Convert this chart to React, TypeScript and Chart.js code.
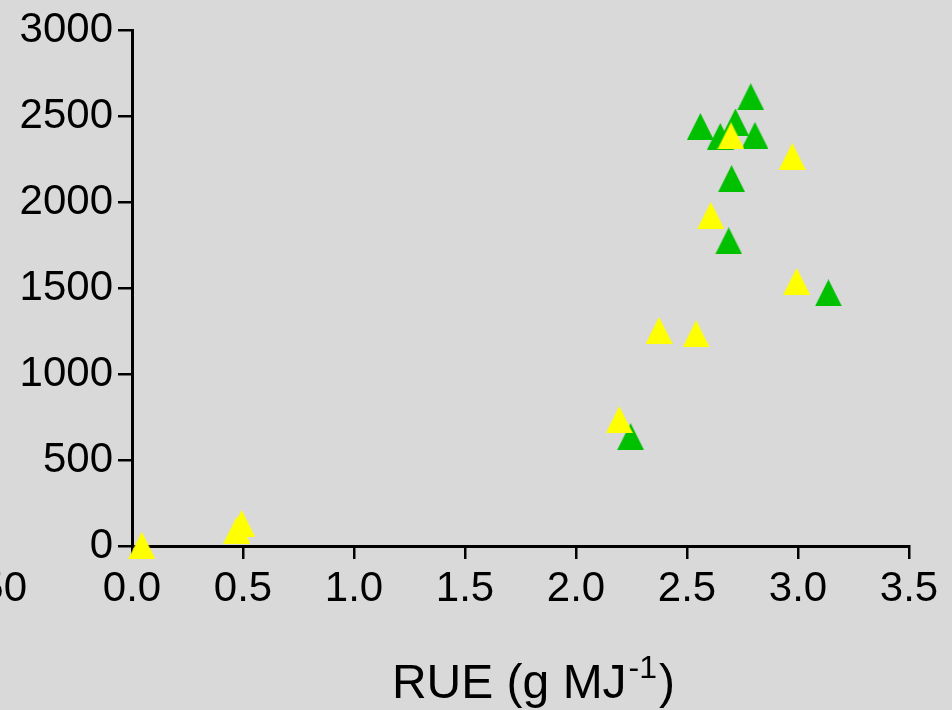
import React, { useEffect, useRef } from "react";
import { Chart, registerables } from "chart.js";

Chart.register(...registerables);

const X_TICKS = [0, 0.5, 1.0, 1.5, 2.0, 2.5, 3.0, 3.5];
const Y_TICKS = [0, 500, 1000, 1500, 2000, 2500, 3000];

const GREEN_X = [2.787, 2.56, 2.718, 2.65, 2.806, 2.701, 2.688, 3.137, 2.246];
const GREEN_Y = [2613, 2440, 2466, 2382, 2388, 2137, 1775, 1472, 636];

const YELLOW_X = [2.698, 2.974, 2.607, 2.994, 2.374, 2.541, 2.195, 0.044, 0.494, 0.472];
const YELLOW_Y = [2386, 2266, 1923, 1539, 1254, 1234, 735, 4, 131, 93];

const TITLE_MAIN = "RUE (g MJ";
const TITLE_SUP = "-1";
const TITLE_END = ")";
const EDGE_FRAGMENT = "50";

const FONT = '"Liberation Sans", Arial, Helvetica, sans-serif';
const BG = "#d9d9d9";

function makeTriangle(color: string, size: number): HTMLCanvasElement {
  const c = document.createElement("canvas");
  c.width = size;
  c.height = size;
  const ctx = c.getContext("2d")!;
  ctx.fillStyle = color;
  ctx.beginPath();
  ctx.moveTo(0, size);
  ctx.lineTo(size / 2, 0);
  ctx.lineTo(size, size);
  ctx.closePath();
  ctx.fill();
  return c;
}

const textPlugin = {
  id: "extraText",
  afterDraw(chart: any) {
    const ctx = chart.ctx;
    const area = chart.chartArea;
    ctx.save();
    ctx.fillStyle = "#000";
    const bigFont = `48px ${FONT}`;
    const smallFont = `32px ${FONT}`;
    ctx.font = bigFont;
    const w1 = ctx.measureText(TITLE_MAIN).width;
    const w3 = ctx.measureText(TITLE_END).width;
    ctx.font = smallFont;
    const w2 = ctx.measureText(TITLE_SUP).width;
    const total = w1 + w2 + w3 + 4;
    let x = (area.left + area.right) / 2 + 13 - total / 2;
    const base = 698;
    ctx.textAlign = "left";
    ctx.textBaseline = "alphabetic";
    ctx.font = bigFont;
    ctx.fillText(TITLE_MAIN, x, base);
    x += w1 + 2;
    ctx.font = smallFont;
    ctx.fillText(TITLE_SUP, x, base - 20);
    x += w2 + 2;
    ctx.font = bigFont;
    ctx.fillText(TITLE_END, x, base);
    ctx.font = `42px ${FONT}`;
    ctx.textAlign = "right";
    ctx.textBaseline = "middle";
    ctx.fillText(EDGE_FRAGMENT, 27, 589);
    ctx.restore();
  },
};

export default function App() {
  const ref = useRef<HTMLCanvasElement | null>(null);

  useEffect(() => {
    if (!ref.current) return;
    const yellowImg = makeTriangle("#ffff00", 27);
    const greenImg = makeTriangle("#00c000", 27);
    const chart = new Chart(ref.current, {
      type: "scatter",
      data: {
        datasets: [
          {
            label: "yellow",
            data: YELLOW_X.map((x, i) => ({ x, y: YELLOW_Y[i] })),
            pointStyle: yellowImg as any,
            pointRadius: 14,
            backgroundColor: "#ffff00",
            clip: false as any,
          },
          {
            label: "green",
            data: GREEN_X.map((x, i) => ({ x, y: GREEN_Y[i] })),
            pointStyle: greenImg as any,
            pointRadius: 14,
            backgroundColor: "#00c000",
            clip: false as any,
          },
        ],
      },
      options: {
        responsive: false,
        animation: false,
        events: [],
        layout: { padding: { top: 27, right: 43, left: 0, bottom: 0 }, autoPadding: false } as any,
        plugins: {
          legend: { display: false },
          tooltip: { enabled: false },
          title: { display: false },
        },
        scales: {
          x: {
            type: "linear",
            min: 0,
            max: 3.5,
            z: 1,
            afterFit: (s: any) => {
              s.height = 164;
            },
            afterBuildTicks: (s: any) => {
              s.ticks = X_TICKS.map((v) => ({ value: v }));
            },
            border: { display: true, color: "#000", width: 3 },
            grid: {
              drawOnChartArea: false,
              drawTicks: true,
              tickLength: 13,
              color: "#000",
              lineWidth: 2.5,
            },
            ticks: {
              padding: 5,
              maxRotation: 0,
              autoSkip: false,
              color: "#000",
              font: { family: FONT, size: 42 },
              callback: (v: any) => Number(v).toFixed(1),
            },
          },
          y: {
            type: "linear",
            min: 0,
            max: 3000,
            z: 1,
            afterFit: (s: any) => {
              s.width = 132;
            },
            afterBuildTicks: (s: any) => {
              s.ticks = Y_TICKS.map((v) => ({ value: v }));
            },
            border: { display: true, color: "#000", width: 3 },
            grid: {
              drawOnChartArea: false,
              drawTicks: true,
              tickLength: 14,
              color: "#000",
              lineWidth: 2.5,
            },
            ticks: {
              padding: 5,
              autoSkip: false,
              color: "#000",
              font: { family: FONT, size: 42 },
              callback: (v: any) => String(v),
            },
          },
        },
      },
      plugins: [textPlugin],
    });
    return () => chart.destroy();
  }, []);

  return (
    <div style={{ position: "fixed", left: 0, top: 0, width: 952, height: 710, background: BG }}>
      <canvas ref={ref} width={952} height={710} style={{ display: "block", width: 952, height: 710 }} />
    </div>
  );
}
